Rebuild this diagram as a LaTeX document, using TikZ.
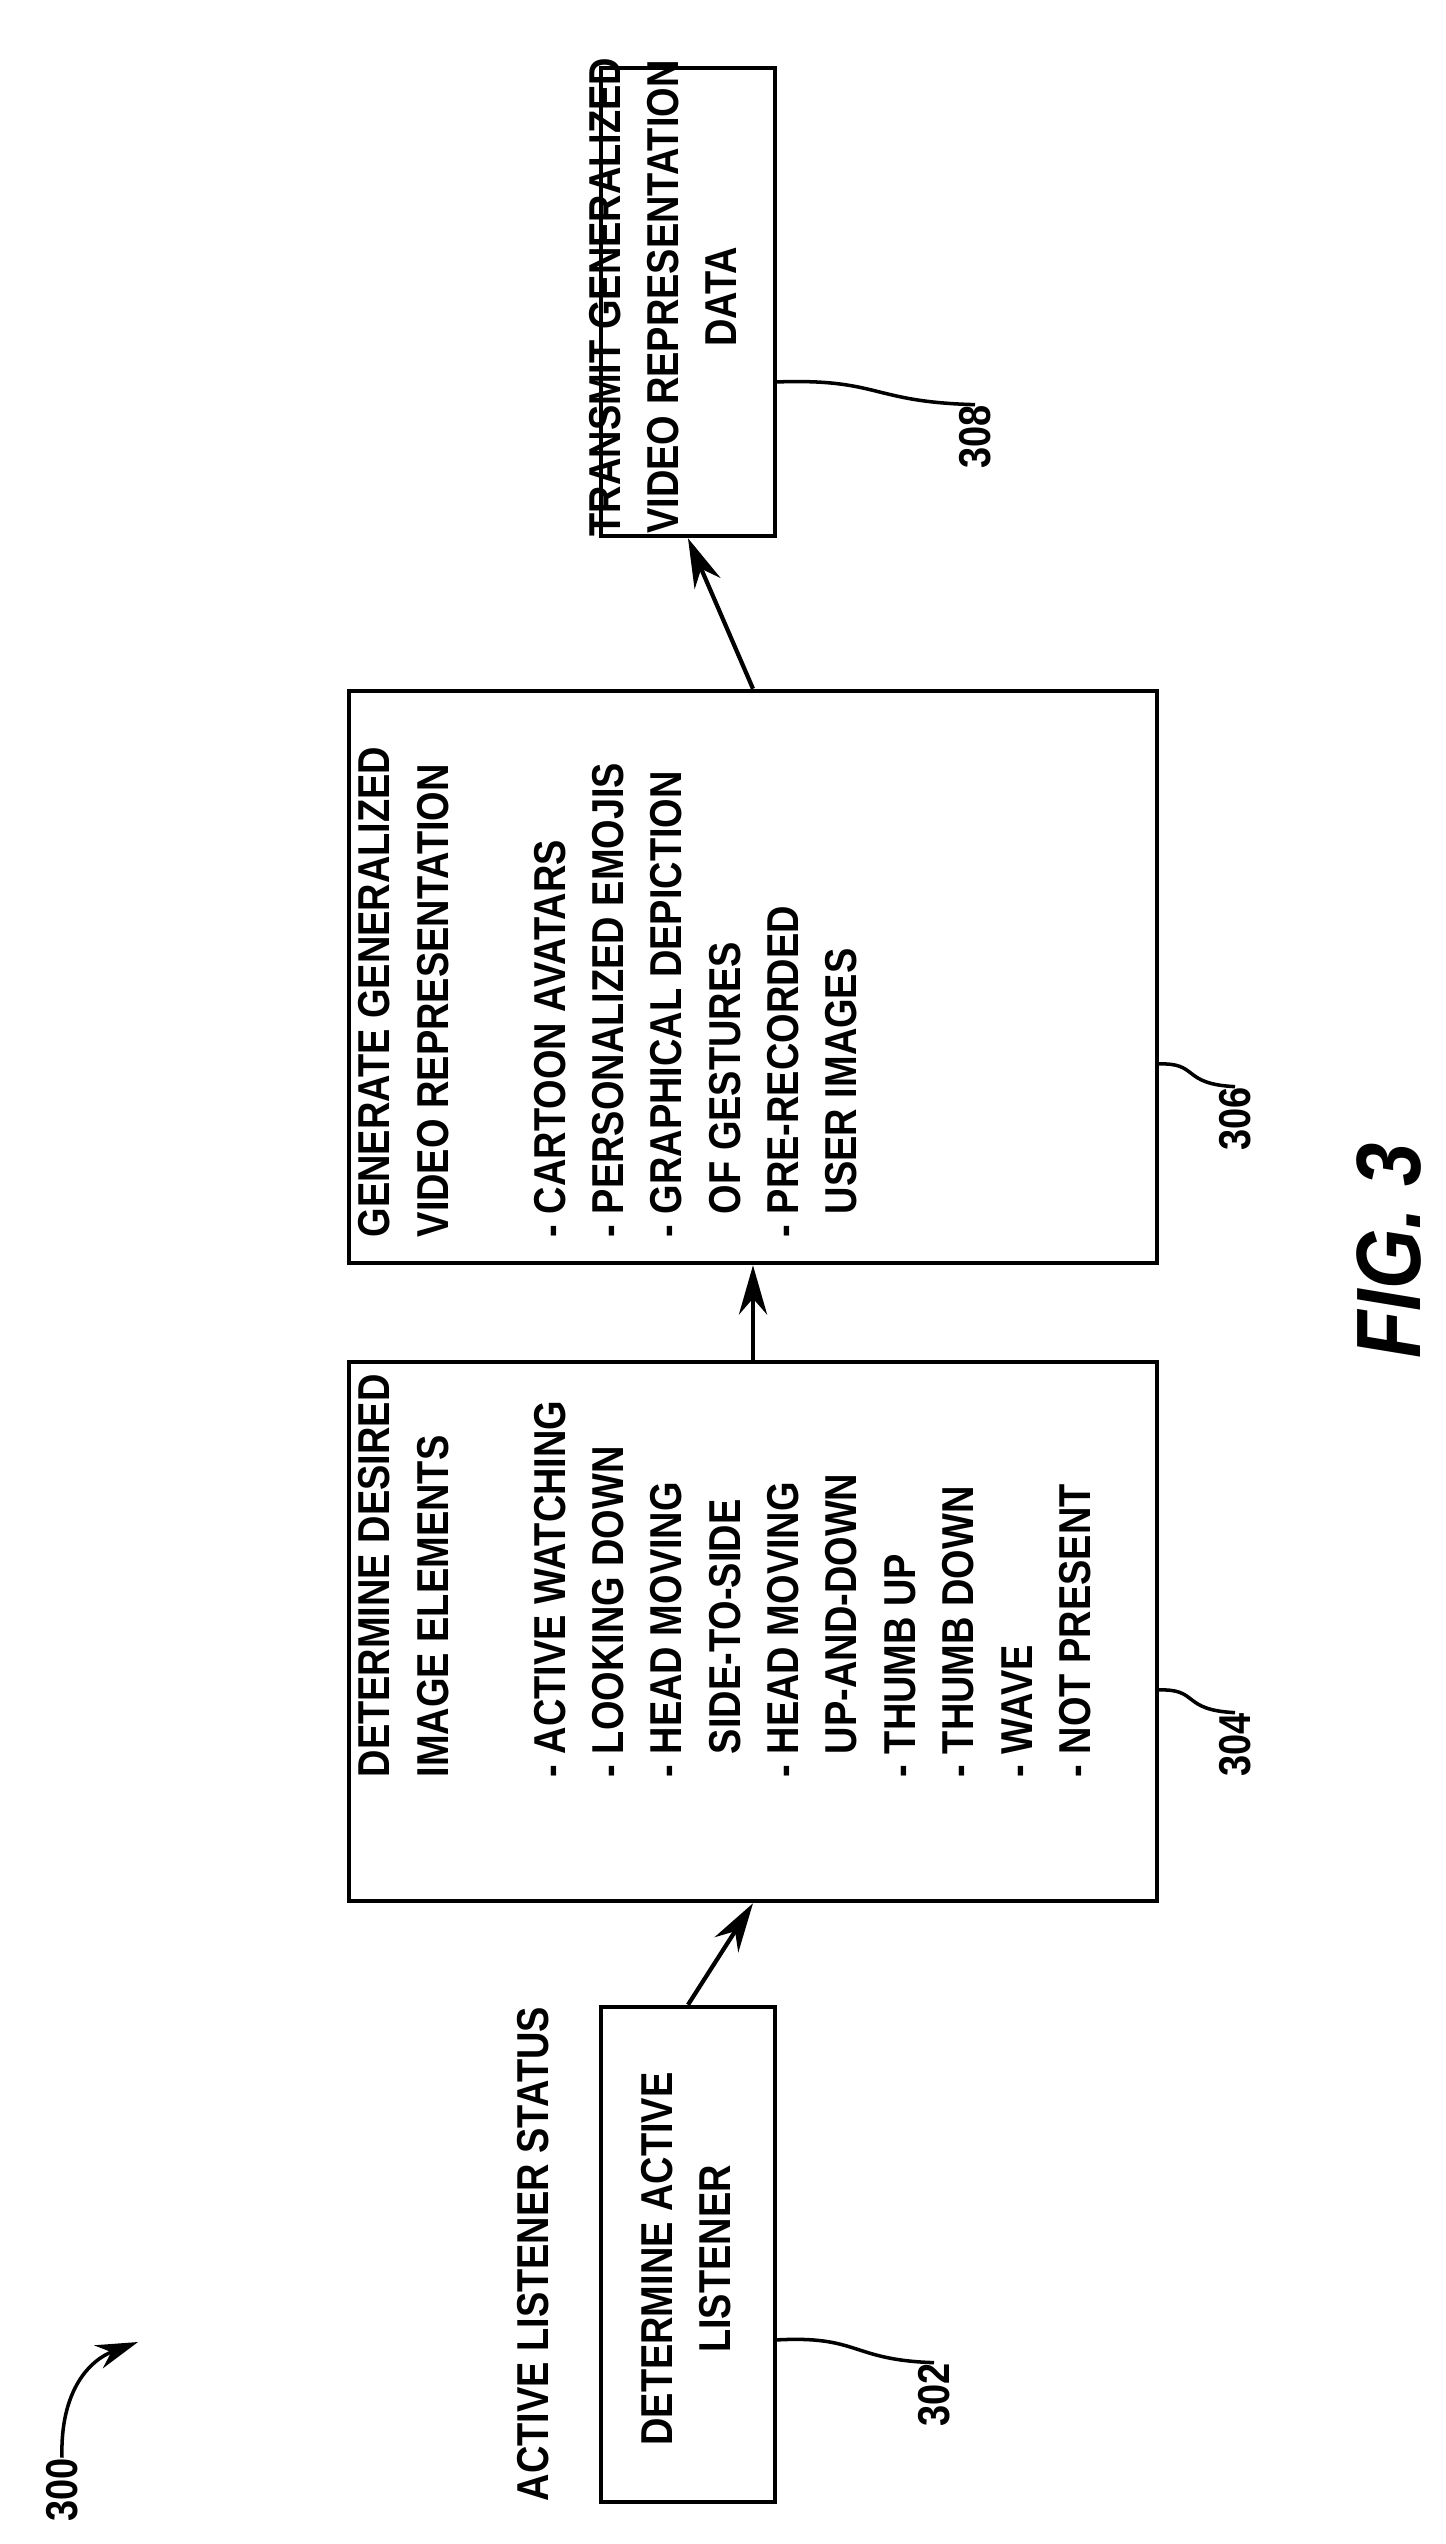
\documentclass[tikz,border=0pt]{standalone}
\usepackage{fontspec}
\usetikzlibrary{arrows.meta}
\setmainfont{Liberation Sans}[FakeStretch=0.85]
\begin{document}
\begin{tikzpicture}[x=0.01cm,y=0.01cm,
  box/.style={draw,line width=1.2pt,inner sep=0},
  txt/.style={rotate=90,inner sep=0pt,font=\bfseries\fontsize{12.7}{16.6}\selectfont},
  lab/.style={rotate=90,inner sep=0pt,font=\bfseries\fontsize{12.7}{17}\selectfont},
  lead/.style={line width=1pt},
  arr/.style={line width=1.2pt,-{Stealth[length=14pt,width=8pt]}}]
\useasboundingbox (0,0) rectangle (1446,-2544);
\node[box,minimum width=1.74cm,minimum height=4.95cm] (b302) at (688,-2254.5) {};
\node[box,minimum width=8.08cm,minimum height=5.39cm] (b304) at (753,-1631.5) {};
\node[box,minimum width=8.08cm,minimum height=5.72cm] (b306) at (753,-977) {};
\node[box,minimum width=1.74cm,minimum height=4.68cm] (b308) at (688,-302) {};
\node[txt,align=center] (t302) at (686,-2259) {DETERMINE ACTIVE\\LISTENER};
\node[txt,align=left,anchor=north west] (t304) at (358,-1778) {DETERMINE DESIRED\\IMAGE ELEMENTS\\[16.6pt]- ACTIVE WATCHING\\- LOOKING DOWN\\- HEAD MOVING\\\phantom{- }SIDE-TO-SIDE\\- HEAD MOVING\\\phantom{- }UP-AND-DOWN\\- THUMB UP\\- THUMB DOWN\\- WAVE\\- NOT PRESENT};
\node[txt,align=left,anchor=north west] (t306) at (358,-1238) {GENERATE GENERALIZED\\VIDEO REPRESENTATION\\[16.6pt]- CARTOON AVATARS\\- PERSONALIZED EMOJIS\\- GRAPHICAL DEPICTION\\\phantom{- }OF GESTURES\\- PRE-RECORDED\\\phantom{- }USER IMAGES};
\node[txt,align=center] (t308) at (663,-297) {TRANSMIT GENERALIZED\\VIDEO REPRESENTATION\\DATA};
\node[txt,anchor=south west] (status) at (550,-2502) {ACTIVE LISTENER STATUS};
\draw[arr] (b302.north) -- (b304.south);
\draw[arr] (b304.north) -- (b306.south);
\draw[arr] (b306.north) -- (b308.south);
\node[lab] (l302) at (934,-2395) {302};
\node[lab] (l304) at (1235,-1745) {304};
\node[lab] (l306) at (1235,-1119) {306};
\node[lab] (l308) at (975,-437) {308};
\coordinate (c302) at (775,-2340);
\coordinate (c304) at (1157,-1690);
\coordinate (c306) at (1157,-1064);
\coordinate (c308) at (775,-382);
\draw[lead] (c302) .. controls (860,-2335) and (850,-2360) .. (l302.east);
\draw[lead] (c304) .. controls (1200,-1688) and (1180,-1710) .. (l304.east);
\draw[lead] (c306) .. controls (1200,-1062) and (1180,-1084) .. (l306.east);
\draw[lead] (c308) .. controls (880,-378) and (870,-402) .. (l308.east);
\node[lab] (l300) at (62,-2490) {300};
\coordinate (a300) at (138,-2342);
\draw[line width=1pt,-{Stealth[length=12pt,width=7pt]}] (l300.east) .. controls (60,-2390) and (90,-2360) .. (a300);
\node[rotate=90,inner sep=0pt,font=\bfseries\itshape\fontsize{26}{30}\selectfont] (fig) at (1389,-1251) {FIG. 3};
\end{tikzpicture}
\end{document}
